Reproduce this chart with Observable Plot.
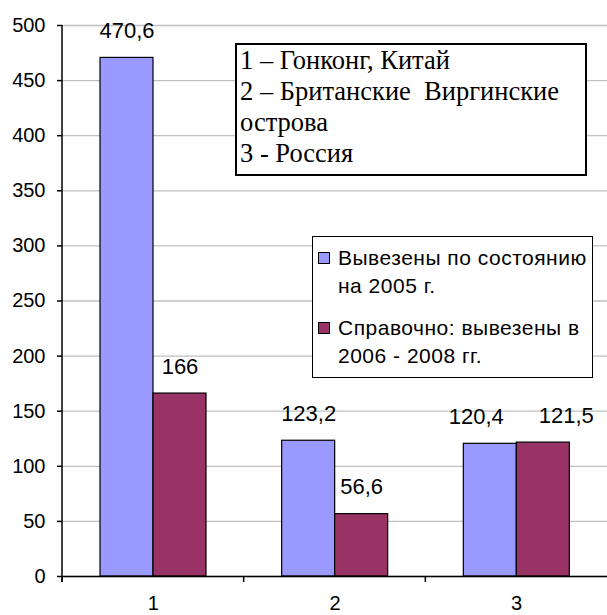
<!DOCTYPE html>
<html><head><meta charset="utf-8">
<script src="https://cdn.jsdelivr.net/npm/d3@7"></script>
<script src="https://cdn.jsdelivr.net/npm/@observablehq/plot@0.6"></script>
<style>
body{margin:0;background:#fff;}
#wrap{position:relative;width:607px;height:615px;overflow:hidden;}
#wrap svg{position:absolute;left:0;top:0;}
.note{position:absolute;left:235px;top:43px;width:352px;height:133px;box-sizing:border-box;border:2px solid #000;background:#fff;
  font-family:"Liberation Serif","Times New Roman",serif;font-size:26.5px;line-height:31px;padding:0 0 0 3px;color:#000;white-space:pre;}
.legend{position:absolute;left:312px;top:236px;width:281px;height:142px;box-sizing:border-box;border:1px solid #000;background:#fff;
  font-family:"Liberation Sans",Arial,sans-serif;font-size:21px;line-height:28px;color:#000;}
.item{position:absolute;left:25px;white-space:pre;letter-spacing:0.5px;}
.sw{position:absolute;left:5px;width:12px;height:12px;box-sizing:border-box;border:1px solid #000;}
</style></head>
<body><div id="wrap"></div>
<script>
const categories = ["1", "2", "3"];
const seriesNames = ["Вывезены по состоянию на 2005 г.", "Справочно: вывезены в 2006 - 2008 гг."];
const values2005 = [470.6, 123.2, 120.4];
const values2006_2008 = [166, 56.6, 121.5];
const yTicks = [0, 50, 100, 150, 200, 250, 300, 350, 400, 450, 500];
const noteLines = ["1 – Гонконг, Китай", "2 – Британские  Виргинские", "острова", "3 - Россия"];
const legendLines = [["Вывезены по состоянию", "на 2005 г."], ["Справочно: вывезены в", "2006 - 2008 гг."]];
const colors = ["#9999FF", "#993366"];

// layout: horizontal nudges of value labels (px), as placed in the original
const labelShiftA = [0, 0, -14];
const labelShiftB = [0, 0, 23];

const data = categories.map((c, i) => ({cat: c, a: values2005[i], b: values2006_2008[i], i}));
const fmt = v => String(v).replace(".", ",");

const W = 607, H = 615;
const mL = 62, mR = 0, mT = 25, mB = 39;
const band = (W - mL - mR) / categories.length;
const barW = 53, barStart = 38;
const inA = [barStart, band - barStart - barW];
const inB = [barStart + barW, band - barStart - 2 * barW];
const dxA = barStart + barW / 2 - band / 2;
const dxB = barStart + 1.5 * barW - band / 2;
const FS_TICK = 20, FS_LAB = 22;

const labelMarks = [];
data.forEach(d => {
  labelMarks.push(Plot.text([d], {x: "cat", y: "a", text: r => fmt(r.a), dx: dxA + labelShiftA[d.i], dy: -27, fontSize: FS_LAB, fill: "#000"}));
  labelMarks.push(Plot.text([d], {x: "cat", y: "b", text: r => fmt(r.b), dx: dxB + labelShiftB[d.i], dy: -27, fontSize: FS_LAB, fill: "#000"}));
});

const chart = Plot.plot({
  width: W, height: H,
  marginLeft: mL, marginRight: mR, marginTop: mT, marginBottom: mB,
  style: {fontFamily: "'Liberation Sans', Arial, sans-serif", fontSize: FS_TICK + "px", color: "#000", background: "transparent", overflow: "visible"},
  x: {domain: categories, padding: 0, round: false, label: null},
  y: {domain: [0, 500], label: null},
  marks: [
    Plot.gridY(yTicks, {stroke: "#c0c0c0", strokeOpacity: 1, strokeWidth: 1.3}),
    Plot.barY(data, {x: "cat", y: "a", fill: colors[0], stroke: "#000", strokeWidth: 1.2, insetLeft: inA[0], insetRight: inA[1]}),
    Plot.barY(data, {x: "cat", y: "b", fill: colors[1], stroke: "#000", strokeWidth: 1.2, insetLeft: inB[0], insetRight: inB[1]}),
    ...labelMarks,
    Plot.axisY(yTicks, {tickSize: 5, tickPadding: 12, tickFormat: d => String(d), fontSize: FS_TICK, stroke: "#000", strokeWidth: 1.5}),
    Plot.axisX({tickSize: 0, tickPadding: 19, fontSize: FS_TICK}),
    Plot.ruleY([0], {stroke: "#000", strokeWidth: 1.5})
  ]
});

const wrap = document.getElementById("wrap");
wrap.appendChild(chart);

// axis line and category boundary ticks from the library's scales
const xs = chart.scale("x"), ys = chart.scale("y");
const svg = d3.select(chart);
const x0 = xs.range[0];
const y0 = ys.apply(0), yTop = ys.apply(500);
svg.append("line").attr("x1", x0).attr("x2", x0).attr("y1", yTop).attr("y2", y0 + 6)
  .attr("stroke", "#000").attr("stroke-width", 1.5);
categories.forEach(c => {
  const xb = xs.apply(c);
  svg.append("line").attr("x1", xb).attr("x2", xb).attr("y1", y0).attr("y2", y0 + 6)
    .attr("stroke", "#000").attr("stroke-width", 1.5);
});

// text box
const note = document.createElement("div");
note.className = "note";
note.textContent = noteLines.join("\n");
wrap.appendChild(note);

// legend
const lg = document.createElement("div");
lg.className = "legend";
const tops = [7, 77];
legendLines.forEach((lines, i) => {
  const sw = document.createElement("div");
  sw.className = "sw"; sw.style.top = (tops[i] + 8) + "px"; sw.style.background = colors[i];
  sw.title = seriesNames[i];
  lg.appendChild(sw);
  const it = document.createElement("div");
  it.className = "item"; it.style.top = tops[i] + "px";
  it.textContent = lines.join("\n");
  lg.appendChild(it);
});
wrap.appendChild(lg);
</script></body></html>
